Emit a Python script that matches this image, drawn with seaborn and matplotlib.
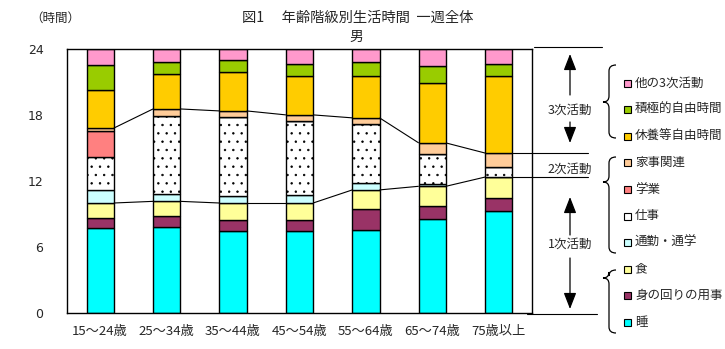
import numpy as np
import pandas as pd
import matplotlib
matplotlib.use("Agg")
import matplotlib.pyplot as plt
import seaborn as sns
from matplotlib.lines import Line2D
from matplotlib.patches import Rectangle, PathPatch
from matplotlib.path import Path

# ---------------- data ----------------
categories = ["15～24歳", "25～34歳", "35～44歳", "45～54歳", "55～64歳", "65～74歳", "75歳以上"]
sleep = [7.73, 7.82, 7.45, 7.45, 7.52, 8.55, 9.27]
personal = [0.88, 0.97, 0.97, 0.97, 1.94, 1.18, 1.18]
meals = [1.39, 1.36, 1.58, 1.58, 1.73, 1.79, 1.91]
commute = [1.18, 0.67, 0.64, 0.73, 0.64, 0.18, 0.00]
work = [3.00, 7.09, 7.18, 6.73, 5.36, 2.76, 0.91]
study = [2.36, 0.00, 0.00, 0.00, 0.00, 0.00, 0.00]
housework = [0.27, 0.64, 0.55, 0.55, 0.55, 1.00, 1.27]
rest = [3.45, 3.18, 3.55, 3.55, 3.82, 5.45, 7.00]
active = [2.27, 1.09, 1.09, 1.09, 1.27, 1.55, 1.09]
other = [1.45, 1.18, 1.00, 1.36, 1.18, 1.55, 1.36]
yticks = [0, 6, 12, 18, 24]

series_names = ["睡", "身の回りの用事", "食", "通勤・通学", "仕事", "学業",
                "家事関連", "休養等自由時間", "積極的自由時間", "他の3次活動"]
series_values = [sleep, personal, meals, commute, work, study,
                 housework, rest, active, other]
series_colors = ["#00FFFF", "#993366", "#FFFF99", "#CCFFFF", "#FFFFFF", "#FF8080",
                 "#FFCC99", "#FFCC00", "#99CC00", "#FF99CC"]
series_hatch = [None, None, None, None, "..", None, None, None, None, None]

# ---------------- style ----------------
sns.set_style("white")
plt.rcParams["font.family"] = ["Noto Sans CJK JP", "DejaVu Sans"]
plt.rcParams["hatch.linewidth"] = 0.5
plt.rcParams["hatch.color"] = "black"

W, H = 725, 349
fig = plt.figure(figsize=(W / 100, H / 100), dpi=100)
fig.patch.set_facecolor("white")

def fx(px):
    return px / W

def fy(py):
    return 1 - py / H

ax = fig.add_axes([fx(67), fy(313), fx(532) - fx(67), fy(49) - fy(313)])

BW = 0.41
bottom = np.zeros(len(categories))
for name, vals, col, hatch in zip(series_names, series_values, series_colors, series_hatch):
    df = pd.DataFrame({"cat": categories, "val": vals})
    sns.barplot(data=df, x="cat", y="val", order=categories, bottom=bottom.copy(),
                color=col, saturation=1, edgecolor="black", linewidth=1.0,
                width=BW, hatch=hatch, ax=ax, errorbar=None)
    bottom += np.array(vals)

# connecting lines
tot1 = np.array(sleep) + np.array(personal) + np.array(meals)
tot2 = tot1 + np.array(commute) + np.array(work) + np.array(study) + np.array(housework)
for i in range(len(categories) - 1):
    for tot in (tot1, tot2):
        ax.plot([i + BW / 2, i + 1 - BW / 2], [tot[i], tot[i + 1]],
                color="black", lw=0.8, solid_capstyle="butt")
last = len(categories) - 1
for tot in (tot1, tot2):
    ax.plot([last + BW / 2, 7.34], [tot[last], tot[last]], color="black",
            lw=0.8, clip_on=False)

ax.set_xlim(-0.5, 6.5)
ax.set_ylim(0, 24)
ax.set_yticks(yticks)
ax.set_yticklabels([str(v) for v in yticks], fontsize=9, family="DejaVu Sans")
ax.set_xlabel("")
ax.set_ylabel("")
ax.tick_params(axis="y", length=0, pad=17)
ax.tick_params(axis="x", direction="in", length=2.5, width=0.8, pad=9,
               labelsize=9.5, color="black")
ax.set_xticks(np.arange(-0.5, 7, 1), minor=True)
ax.tick_params(axis="x", which="minor", direction="in", length=2.5, width=0.8, color="black")
for s in ax.spines.values():
    s.set_visible(True)
    s.set_color("black")
    s.set_linewidth(1.0)

# ---------------- titles ----------------
fig.text(fx(358), fy(18), "図1　 年齢階級別生活時間  一週全体", ha="center", va="center", fontsize=10.3)
fig.text(fx(356), fy(37), "男", ha="center", va="center", fontsize=10)
fig.text(fx(55), fy(18), "（時間）", ha="center", va="center", fontsize=9)

# ---------------- right-side annotation ----------------
fig.add_artist(Line2D([fx(534), fx(602)], [fy(47), fy(47)], color="black", lw=0.8))
fig.add_artist(Line2D([fx(527), fx(597)], [fy(314), fy(314)], color="black", lw=0.8))

def arrow(x, y_from, y_to):
    ax.annotate("", xy=(x, H - y_to), xytext=(x, H - y_from), xycoords="figure pixels",
                textcoords="figure pixels",
                arrowprops=dict(arrowstyle="-|>,head_length=0.9,head_width=0.35",
                                color="black", lw=0.9, mutation_scale=11,
                                shrinkA=0, shrinkB=0))

arrow(570, 95, 54)
arrow(570, 122, 143)
arrow(570, 235, 197)
arrow(570, 258, 309)
fig.text(fx(570), fy(110), "3次活動", ha="center", va="center", fontsize=9)
fig.text(fx(570), fy(169), "2次活動", ha="center", va="center", fontsize=9)
fig.text(fx(570), fy(244), "1次活動", ha="center", va="center", fontsize=9)

def brace(y0, ym, y1, xv=609, xt=603, xe=616):
    pts = [(xe, y0), (xv, y0), (xv, y0 + 6), (xv, ym - 6), (xv, ym), (xt, ym),
           (xv, ym), (xv, ym + 6), (xv, y1 - 6), (xv, y1), (xe, y1)]
    codes = [Path.MOVETO, Path.CURVE3, Path.CURVE3, Path.LINETO, Path.CURVE3, Path.CURVE3,
             Path.CURVE3, Path.CURVE3, Path.LINETO, Path.CURVE3, Path.CURVE3]
    p = Path([(fx(a), fy(b)) for a, b in pts], codes)
    fig.add_artist(PathPatch(p, transform=fig.transFigure, fill=False, lw=0.9, edgecolor="black"))

brace(65, 102, 138)
brace(157, 182, 253)
brace(270, 278, 333)

# legend (top to bottom)
for k, idx in enumerate(range(len(series_names) - 1, -1, -1)):
    yc = 83 + k * 26.6
    fig.add_artist(Rectangle((fx(623.5), fy(yc + 3.5)), fx(7), 7 / H,
                             transform=fig.transFigure, facecolor=series_colors[idx],
                             edgecolor="black", lw=0.8))
    fig.text(fx(635), fy(yc), series_names[idx], ha="left", va="center", fontsize=9)

fig.savefig("out.png", dpi=100, facecolor="white")
